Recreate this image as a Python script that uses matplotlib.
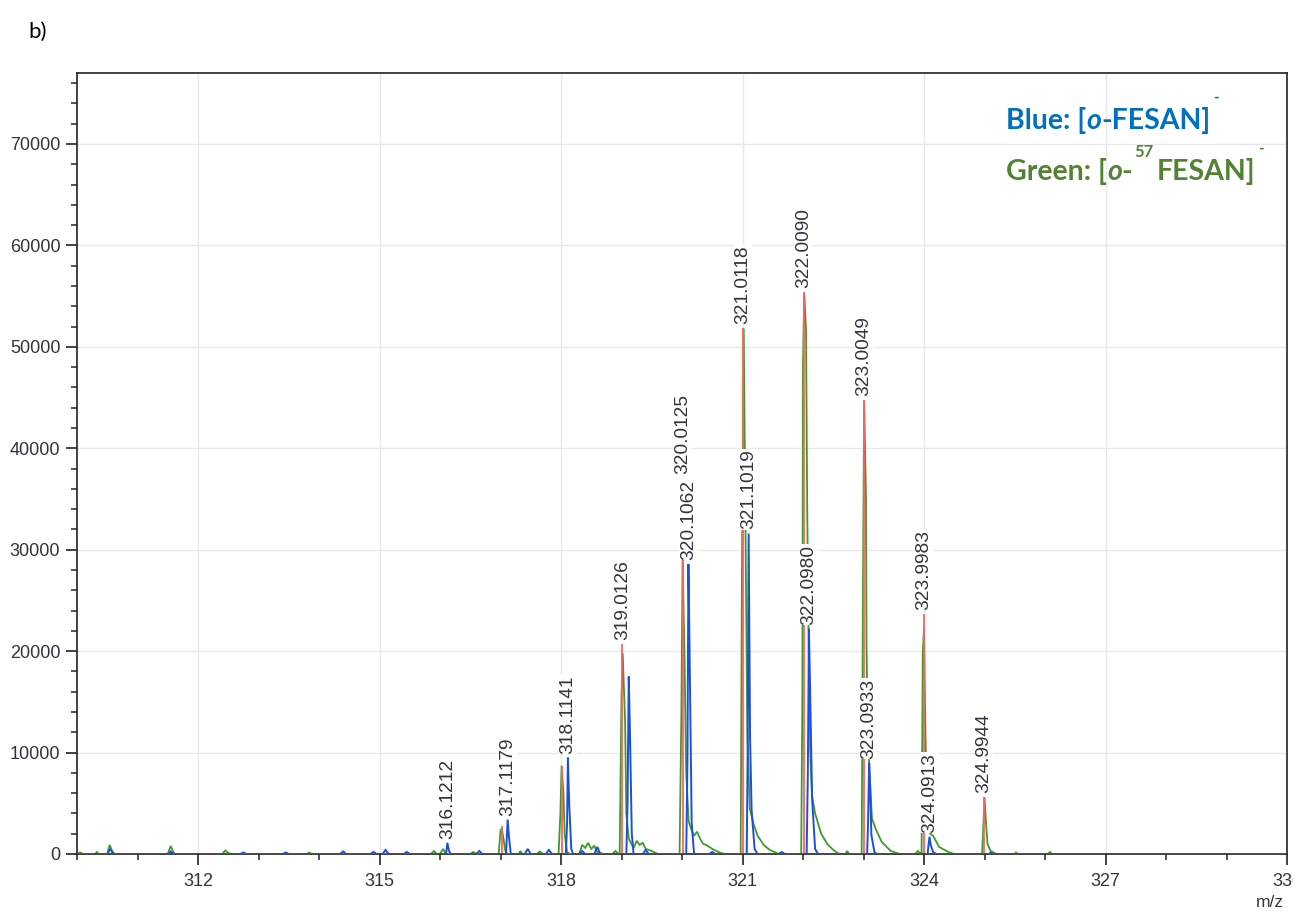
import matplotlib
matplotlib.use("Agg")
import matplotlib.pyplot as plt
from matplotlib.ticker import MultipleLocator, FixedLocator

W, H, DPI = 1293, 911, 100

# ---- measured profile of the 57Fe-labelled species (green trace) ----
green_mz = [
    310.00, 310.05, 310.10, 310.30, 310.33, 310.36, 310.50, 310.54, 310.58, 310.62,
    311.50, 311.55, 311.59, 311.62, 312.40, 312.45, 312.50, 312.55, 313.80, 313.84,
    313.88, 315.85, 315.90, 315.95, 316.00, 316.05, 316.10, 316.50, 316.55, 316.60,
    316.97, 317.00, 317.02, 317.05, 317.08, 317.12, 317.30, 317.33, 317.36, 317.60,
    317.65, 317.70, 317.96, 317.99, 318.01, 318.04, 318.06, 318.10, 318.15, 318.30,
    318.35, 318.40, 318.45, 318.50, 318.55, 318.60, 318.70, 318.85, 318.90, 318.95,
    318.97, 319.00, 319.02, 319.06, 319.08, 319.12, 319.20, 319.25, 319.30, 319.35,
    319.40, 319.50, 319.60, 319.96, 319.99, 320.01, 320.04, 320.07, 320.11, 320.15,
    320.20, 320.25, 320.30, 320.35, 320.40, 320.50, 320.60, 320.70, 320.97, 320.99,
    321.02, 321.05, 321.08, 321.12, 321.18, 321.25, 321.35, 321.45, 321.60, 321.97,
    321.99, 322.00, 322.02, 322.05, 322.07, 322.09, 322.12, 322.15, 322.20, 322.30,
    322.40, 322.50, 322.60, 322.70, 322.73, 322.76, 322.97, 322.99, 323.01, 323.04,
    323.05, 323.07, 323.10, 323.14, 323.20, 323.30, 323.45, 323.60, 323.85, 323.90,
    323.95, 323.96, 323.98, 324.00, 324.02, 324.05, 324.10, 324.15, 324.25, 324.40,
    324.50, 324.96, 324.98, 325.00, 325.02, 325.05, 325.10, 325.20, 325.50, 325.52,
    325.55, 326.05, 326.08, 326.12, 330.00,
]
green_int = [
    0, 150, 0, 0, 200, 0, 0, 900, 300, 0,
    0, 800, 200, 0, 0, 350, 100, 0, 0, 150,
    0, 0, 300, 0, 0, 500, 0, 0, 200, 0,
    0, 2300, 2500, 1500, 300, 0, 0, 300, 0, 0,
    250, 0, 0, 4000, 8700, 6000, 2000, 200, 0, 0,
    900, 600, 1100, 500, 800, 200, 0, 0, 300, 0,
    0, 15500, 19800, 12900, 4000, 1500, 600, 1300, 900, 1100,
    500, 300, 0, 0, 14000, 29100, 20000, 8000, 3200, 2500,
    1800, 2200, 1500, 1000, 900, 500, 200, 0, 0, 27000,
    51800, 31700, 12000, 4500, 3000, 1800, 900, 400, 0, 0,
    16000, 48300, 55300, 51700, 34000, 22500, 10000, 5700, 4000, 2000,
    1000, 400, 0, 0, 300, 0, 0, 24500, 44700, 35500,
    20600, 12000, 8000, 3500, 2500, 1200, 300, 0, 0, 300,
    0, 0, 19800, 22300, 13200, 4000, 2000, 1800, 700, 200,
    0, 0, 2600, 5600, 3500, 1000, 300, 0, 0, 150,
    0, 0, 200, 0, 0,
]

# ---- measured profile of the natural-abundance species (blue trace) ----
blue_mz = [
    310.00, 310.50, 310.55, 310.60, 311.50, 311.55, 311.60, 312.70, 312.75, 312.80,
    313.40, 313.45, 313.50, 314.35, 314.40, 314.45, 314.85, 314.90, 314.95, 315.05,
    315.10, 315.15, 315.40, 315.45, 315.50, 316.10, 316.1212, 316.15, 316.18, 316.60,
    316.65, 316.70, 317.09, 317.105, 317.1179, 317.14, 317.17, 317.40, 317.45, 317.50,
    317.75, 317.80, 317.85, 318.08, 318.10, 318.1141, 318.135, 318.17, 318.20, 318.30,
    318.35, 318.40, 318.55, 318.60, 318.65, 319.08, 319.10, 319.12, 319.14, 319.17,
    319.20, 319.35, 319.40, 319.45, 320.07, 320.09, 320.1062, 320.125, 320.16, 320.20,
    320.45, 320.50, 320.55, 321.07, 321.085, 321.1019, 321.125, 321.15, 321.20, 321.25,
    321.60, 321.65, 321.70, 322.06, 322.08, 322.0980, 322.115, 322.15, 322.20, 322.25,
    323.06, 323.075, 323.0933, 323.11, 323.13, 323.18, 323.22, 324.06, 324.075, 324.0913,
    324.11, 324.15, 324.20, 325.08, 325.10, 325.15, 330.00,
]
blue_int = [
    0, 0, 500, 0, 0, 250, 0, 0, 150, 0,
    0, 150, 0, 0, 250, 0, 0, 200, 0, 0,
    400, 0, 0, 200, 0, 0, 1100, 300, 0, 0,
    300, 0, 0, 1700, 3400, 1700, 0, 0, 500, 0,
    0, 400, 0, 0, 3000, 9500, 5000, 500, 0, 0,
    300, 0, 0, 700, 0, 0, 5000, 17500, 11900, 2000,
    0, 0, 400, 0, 0, 9000, 28600, 20000, 3000, 0,
    0, 200, 0, 0, 10000, 31600, 11500, 4400, 500, 0,
    0, 200, 0, 0, 8000, 22200, 17000, 5500, 500, 0,
    0, 3000, 9000, 6500, 1900, 200, 0, 0, 900, 1700,
    900, 200, 0, 0, 150, 0, 0,
]

# ---- centroid sticks (red) ----
red_mz = [317.02, 318.02, 319.0126, 320.0125, 321.0118, 322.0090, 323.0049, 323.9983, 324.9944]
red_int = [2800, 8700, 20700, 29300, 51900, 55400, 44800, 23700, 5650]

# ---- annotated centroids ----
label_mz = [316.1212, 317.1179, 318.1141, 319.0126, 320.0125, 320.1062, 321.0118, 321.1019,
            322.0090, 322.0980, 323.0049, 323.0933, 323.9983, 324.0913, 324.9944]

x_ticks = [312, 315, 318, 321, 324, 327, 330]
y_ticks = [0, 10000, 20000, 30000, 40000, 50000, 60000, 70000]

C_GREEN = "#3f9a2b"
C_BLUE = "#1d4fd8"
C_RED = "#ff6161"
C_TEXT = "#33333f"

fig = plt.figure(figsize=(W / DPI, H / DPI), dpi=DPI)
ax = fig.add_axes([77 / W, 1 - 854 / H, (1287 - 77) / W, (854 - 73) / H])

ax.set_xlim(310, 330)
ax.set_ylim(0, 77000)
ax.xaxis.set_major_locator(FixedLocator(x_ticks))
ax.xaxis.set_minor_locator(MultipleLocator(1))
ax.yaxis.set_major_locator(FixedLocator(y_ticks))
ax.yaxis.set_minor_locator(MultipleLocator(2000))
ax.set_xticklabels([str(t) for t in x_ticks])
ax.set_yticklabels([str(t) for t in y_ticks])

ax.grid(True, which="major", color="#e8e8e8", lw=1.0)
ax.set_axisbelow(True)
for s in ax.spines.values():
    s.set_color("#222222")
    s.set_linewidth(1.2)
ax.tick_params(axis="both", which="major", direction="out", length=8, width=1.2,
               color="#222222", labelsize=13, labelcolor=C_TEXT)
ax.tick_params(axis="both", which="minor", direction="out", length=4, width=1.1,
               color="#222222")
ax.tick_params(axis="x", which="major", pad=6)
ax.tick_params(axis="y", which="major", pad=4)
for lab in ax.get_xticklabels() + ax.get_yticklabels():
    lab.set_fontfamily("Liberation Sans")

# spectra
ax.plot(green_mz, green_int, color=C_GREEN, lw=1.3, zorder=4, solid_joinstyle="miter")
ax.vlines(red_mz, 0, red_int, color=C_RED, lw=1.3, zorder=5)
ax.plot(blue_mz, blue_int, color=C_BLUE, lw=1.4, zorder=6, solid_joinstyle="miter")

# peak annotations, stacked upwards when they would collide
mark_height = {}
for m, h in zip(red_mz, red_int):
    mark_height[round(m, 4)] = h
for m, h in zip(blue_mz, blue_int):
    mark_height.setdefault(round(m, 4), h)

fig.canvas.draw()
renderer = fig.canvas.get_renderer()
placed = []
order = sorted(label_mz, key=lambda m: mark_height[round(m, 4)])
for m in order:
    h = mark_height[round(m, 4)]
    xd, yd = ax.transData.transform((m, h))
    yd += 4
    while True:
        xx, yy = ax.transData.inverted().transform((xd, yd))
        t = ax.text(xx, yy, f"{m:.4f}", rotation=90, ha="center", va="bottom",
                    fontsize=13.8, family="Liberation Sans", color=C_TEXT, zorder=8,
                    bbox=dict(boxstyle="square,pad=0.03", fc="white", ec="none"))
        bb = t.get_window_extent(renderer)
        hit = None
        for pb in placed:
            if bb.x1 > pb.x0 and bb.x0 < pb.x1 and bb.y1 > pb.y0 and bb.y0 < pb.y1:
                hit = pb
                break
        if hit is None:
            placed.append(bb)
            break
        t.remove()
        yd = hit.y1 + 6

# legend-style caption in the corner, composed piece by piece
def put(x_px, y_px, s, **kw):
    t = fig.text(x_px / W, 1 - y_px / H, s, ha="left", va="baseline", **kw)
    return t.get_window_extent(renderer).x1


base = dict(family="Lato", weight="bold", fontsize=20.5)
x = put(1006, 129, "Blue: [", color="#0070C0", **base)
x = put(x, 129, "o", color="#0070C0", style="italic", **base)
x = put(x, 129, "-FESAN]", color="#0070C0", **base)
put(x + 3, 102, "-", color="#0070C0", family="Lato", weight="bold", fontsize=11)

x = put(1006, 180, "Green: [", color="#548235", **base)
x = put(x, 180, "o", color="#548235", style="italic", **base)
x = put(x, 180, "-", color="#548235", **base)
x = put(x + 2, 157, "57", color="#548235", family="Lato", weight="bold", fontsize=12)
x = put(x + 3, 180, "FESAN]", color="#548235", **base)
put(x + 3, 153, "-", color="#548235", family="Lato", weight="bold", fontsize=11)

fig.text(28 / W, 1 - 38 / H, "b)", ha="left", va="baseline", fontsize=16,
         family="Lato", color="black")
fig.text(1270 / W, 1 - 907 / H, "m/z", ha="center", va="baseline", fontsize=12.5,
         family="Liberation Sans", color=C_TEXT)

fig.savefig("out.png", dpi=DPI)
